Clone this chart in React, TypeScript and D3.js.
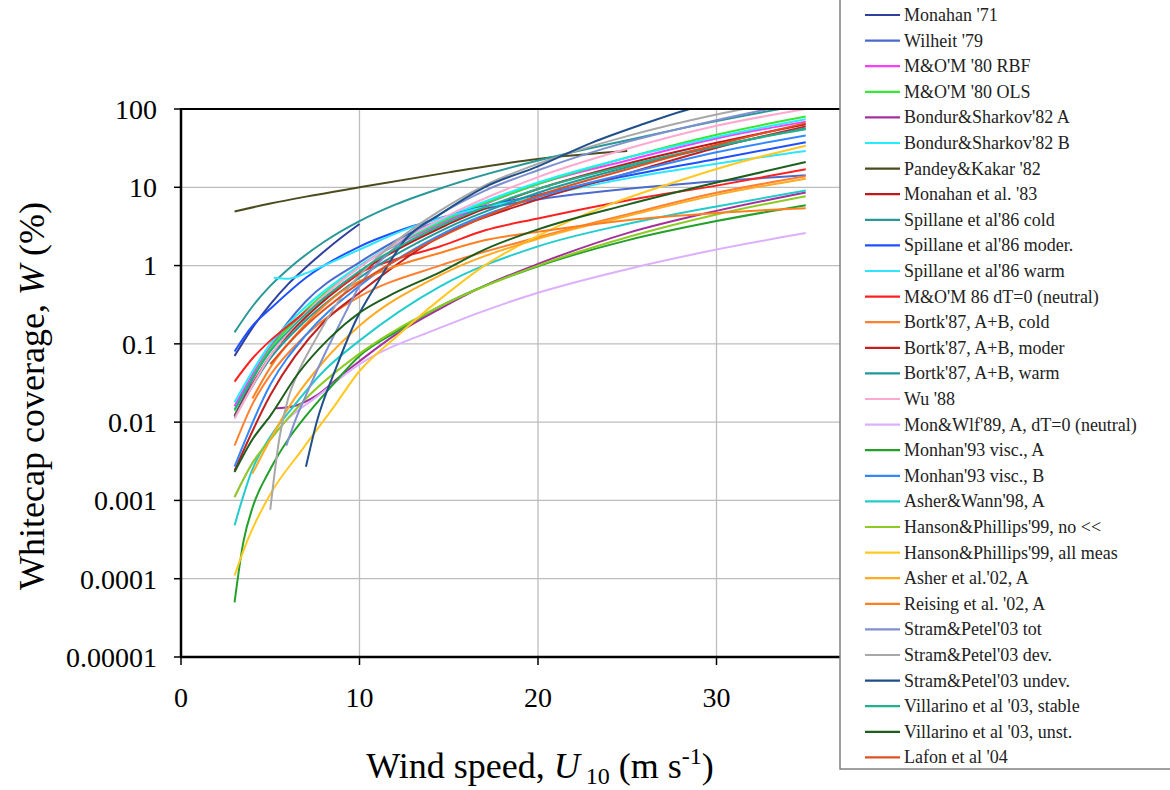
import React from 'react';
import * as d3 from 'd3';

// legend labels and line colours, in legend order
const SERIES_NAMES = [
  "Monahan '71",
  "Wilheit '79",
  "M&O'M '80 RBF",
  "M&O'M '80 OLS",
  "Bondur&Sharkov'82 A",
  "Bondur&Sharkov'82 B",
  "Pandey&Kakar '82",
  "Monahan et al. '83",
  "Spillane et al'86 cold",
  "Spillane et al'86 moder.",
  "Spillane et al'86 warm",
  "M&O'M 86 dT=0 (neutral)",
  "Bortk'87, A+B, cold",
  "Bortk'87, A+B, moder",
  "Bortk'87, A+B, warm",
  "Wu '88",
  "Mon&Wlf'89, A, dT=0 (neutral)",
  "Monhan'93 visc., A",
  "Monhan'93 visc., B",
  "Asher&Wann'98, A",
  "Hanson&Phillips'99, no <<",
  "Hanson&Phillips'99, all meas",
  "Asher et al.'02, A",
  "Reising et al. '02, A",
  "Stram&Petel'03 tot",
  "Stram&Petel'03 dev.",
  "Stram&Petel'03 undev.",
  "Villarino et al '03, stable",
  "Villarino et al '03, unst.",
  "Lafon et al '04",
];

const SERIES_COLORS = [
  '#2e3f9c', '#4a6acd', '#ff3cff', '#33e833', '#a3309c', '#22eeff',
  '#4b4b1e', '#c01818', '#2a9898', '#1f50ff', '#2ee6ff', '#ff2020',
  '#ff8030', '#c02020', '#1f9a9a', '#ffa8d0', '#dcb0ff', '#22a02a',
  '#3388ff', '#22cccc', '#8ccc22', '#ffc822', '#ffaa20', '#ff7f20',
  '#7f8fcf', '#a8a8a8', '#1f4f8a', '#22b08c', '#1d5e1d', '#e05020',
];

// [wind speed U10 (m/s), whitecap coverage W (%)]
const monahan71 = [[3, 0.07], [4, 0.16], [5, 0.32], [6, 0.58], [7, 0.95], [8, 1.5], [9, 2.3], [10, 3.4]];
const wilheit79 = [[3, 0.012], [5, 0.09], [7, 0.35], [10, 1.1], [14, 3.4], [17, 5.3], [20, 7], [27.6, 10.8], [35, 14.2]];
const momRbf80 = [[3, 0.016], [5, 0.09], [7, 0.26], [10, 0.96], [15, 3.8], [20, 11], [25, 22], [30, 42], [35, 69]];
const momOls80 = [[3, 0.014], [5, 0.086], [7, 0.27], [10, 0.97], [15, 4.0], [20, 11], [25, 24], [30, 47], [35, 80]];
const bondurA = [[5.3, 0.015], [6.3, 0.016], [7.6, 0.022], [9, 0.04], [10, 0.06], [12, 0.13], [14.5, 0.28], [17, 0.55], [20, 1.05], [25, 2.6], [30, 5.0], [35, 8.6]];
const bondurB = [[3, 0.018], [5, 0.1], [7, 0.3], [10, 1.0], [15, 4.2], [20, 11.5], [25, 24], [30, 44], [35, 74]];
const pandey82 = [[3, 4.9], [5, 6.2], [7, 7.6], [10, 10], [15, 15.5], [20, 23], [25, 29]];
const monahan83 = [[3, 0.012], [5, 0.07], [7, 0.22], [10, 0.8], [15, 3.4], [20, 9.5], [25, 20], [30, 37], [35, 64]];
const spillCold = [[3, 0.14], [4, 0.3], [5, 0.55], [6, 0.9], [8, 2.0], [10, 3.7], [12, 6], [15, 10.5], [20, 22], [25, 40], [30, 70], [35, 115]];
const spillModer = [[3, 0.08], [4, 0.17], [5, 0.28], [7, 0.7], [10, 1.75], [13, 3.2], [16, 5], [20, 8], [25, 14], [30, 23], [35, 37.6]];
const spillWarm = [[5.2, 0.7], [6, 0.68], [7, 0.8], [8, 1.0], [10, 1.6], [12.6, 2.9], [16.4, 5.2], [20, 7.6], [25, 13], [30, 20], [35, 29]];
const mom86 = [[3, 0.033], [4, 0.065], [5, 0.11], [6, 0.17], [7, 0.26], [9, 0.55], [10, 0.8], [12, 1.2], [14.5, 1.75], [17, 2.8], [20, 4.0], [25, 6.8], [30, 10.5], [35, 17]];
const bortkCold = [[3, 0.005], [4, 0.017], [5, 0.04], [7, 0.13], [10, 0.4], [14.5, 1.0], [20, 2.3], [25, 4.5], [30, 8.5], [35, 13.8]];
const bortkModer = [[3, 0.0024], [5, 0.022], [8, 0.19], [10, 0.45], [14, 2.0], [20, 7], [25, 15], [30, 32], [35, 60]];
const bortkWarm = [[3, 0.0115], [5, 0.065], [7, 0.2], [10, 0.7], [15, 3.1], [20, 8.5], [25, 18], [30, 33], [35, 57]];
const wu88 = [[3, 0.011], [5, 0.07], [7, 0.25], [10, 0.95], [15, 4.4], [20, 13.5], [25, 31], [30, 61], [35, 100]];
const monWolf89 = [[3, 0.0011], [4, 0.003], [5, 0.006], [6, 0.011], [7.6, 0.021], [10, 0.055], [14.5, 0.16], [20, 0.45], [25, 0.9], [30, 1.6], [35, 2.6]];
const mon93A = [[3, 0.00005], [3.5, 0.0003], [4, 0.0008], [5, 0.0025], [6, 0.006], [7, 0.012], [8.5, 0.03], [10, 0.07], [12, 0.14], [14.5, 0.3], [20, 0.98], [25, 2.1], [30, 3.7], [35, 5.9]];
const mon93B = [[3, 0.0027], [5, 0.03], [7, 0.13], [10, 0.55], [15, 2.8], [20, 7.5], [25, 15], [30, 28], [35, 46]];
const asherWann98 = [[3, 0.00048], [4, 0.0025], [5, 0.0065], [6, 0.013], [8, 0.045], [10, 0.11], [14.5, 0.54], [20, 1.76], [25, 3.4], [30, 5.7], [35, 9.1]];
const hpNo99 = [[3, 0.0011], [4, 0.003], [5, 0.006], [7, 0.02], [10, 0.075], [14.5, 0.3], [20, 1.0], [25, 2.3], [30, 4.5], [35, 7.7]];
const hpAll99 = [[3, 0.00011], [3.7, 0.0003], [5, 0.0012], [6.8, 0.0045], [8.5, 0.015], [10, 0.045], [12, 0.12], [14.5, 0.37], [17, 1.0], [20, 2.4], [24, 6], [27.6, 11.5], [31, 20], [35, 34]];
const asher02 = [[4, 0.0022], [5, 0.006], [6, 0.015], [8, 0.06], [10, 0.17], [14.5, 0.75], [20, 2.2], [25, 4.3], [30, 8], [35, 12.9]];
const reising02 = [[4, 0.02], [5, 0.05], [7, 0.18], [8.9, 0.45], [11, 0.8], [14.5, 1.45], [17, 2.1], [20, 2.7], [25, 3.8], [30, 4.7], [35, 5.4]];
const stramTot = [[5.9, 0.005], [6.5, 0.012], [7, 0.022], [8, 0.07], [9, 0.2], [10, 0.55], [12, 1.7], [14.5, 4.5], [17, 9], [20, 16.5], [25, 38], [30, 72], [35, 125]];
const stramDev = [[5, 0.00076], [5.5, 0.006], [6, 0.02], [6.5, 0.04], [7.5, 0.11], [9, 0.4], [10, 0.75], [12, 2.0], [14.5, 5], [17, 10.5], [20, 20], [25, 45], [30, 85], [35, 140]];
const stramUndev = [[7, 0.0027], [7.6, 0.01], [8.7, 0.05], [9.8, 0.2], [11, 0.6], [12.6, 2.2], [14.5, 4.5], [17, 10], [20, 18.5], [23, 37], [25.7, 62], [28.5, 100], [32, 150]];
const villStable = [[3, 0.0145], [5, 0.08], [7, 0.24], [10, 0.85], [15, 3.6], [20, 9.5], [25, 19], [30, 34], [35, 55]];
const villUnst = [[3, 0.0023], [4, 0.006], [5, 0.012], [6.5, 0.04], [8.35, 0.12], [10, 0.25], [12, 0.45], [14.5, 0.82], [17, 1.6], [20, 2.9], [25, 6], [30, 11.5], [35, 21]];
const lafon04 = [[5, 0.055], [6, 0.1], [7, 0.17], [8, 0.27], [10, 0.6], [12, 1.15], [15, 2.6], [20, 7.8], [25, 17], [30, 35], [35, 66]];

const SERIES_DATA = [
  monahan71, wilheit79, momRbf80, momOls80, bondurA, bondurB, pandey82, monahan83,
  spillCold, spillModer, spillWarm, mom86, bortkCold, bortkModer, bortkWarm, wu88,
  monWolf89, mon93A, mon93B, asherWann98, hpNo99, hpAll99, asher02, reising02,
  stramTot, stramDev, stramUndev, villStable, villUnst, lafon04,
];

const X_TICKS = [0, 10, 20, 30];
const X_GRID = [10, 20, 30];
const Y_TICKS = [100, 10, 1, 0.1, 0.01, 0.001, 0.0001, 0.00001];
const Y_TICK_LABELS = ['100', '10', '1', '0.1', '0.01', '0.001', '0.0001', '0.00001'];

// set on every text element, inheritance from the svg did not take
const serif = { fontFamily: "'Liberation Serif'" };

export default function App() {
  const width = 1170;
  const height = 790;
  const left = 181, right = 895, top = 109, bottom = 657;

  const x = d3.scaleLinear().domain([0, 40]).range([left, right]);
  const y = d3.scaleLog().domain([0.00001, 100]).range([bottom, top]);

  const line = d3.line<number[]>()
    .x(d => x(d[0]))
    .y(d => y(d[1]))
    .curve(d3.curveMonotoneX);

  // legend
  const legX = 840, legY0 = 15, legStep = 25.6;

  return (
    <svg width={width} height={height} style={{ position: 'absolute', left: 0, top: 0, background: '#fff' }}>
      <defs>
        <clipPath id="plotClip">
          <rect x={left} y={top} width={right - left} height={bottom - top} />
        </clipPath>
      </defs>
      <rect x={0} y={0} width={width} height={height} fill="#fff" />

      {/* grid */}
      {Y_TICKS.map(t => (
        <line key={'gy' + t} x1={left} x2={right} y1={y(t)} y2={y(t)} stroke="#bdbdbd" strokeWidth={1.3} />
      ))}
      {X_GRID.map(t => (
        <line key={'gx' + t} x1={x(t)} x2={x(t)} y1={top} y2={bottom} stroke="#bdbdbd" strokeWidth={1.3} />
      ))}

      {/* curves */}
      <g clipPath="url(#plotClip)">
        {SERIES_DATA.map((d, i) => (
          <path key={i} d={line(d) || ''} fill="none" stroke={SERIES_COLORS[i]} strokeWidth={2} />
        ))}
      </g>

      {/* frame and axes */}
      <line x1={left} x2={right} y1={top} y2={top} stroke="#000" strokeWidth={2} />
      <line x1={right} x2={right} y1={top} y2={bottom} stroke="#000" strokeWidth={2} />
      <line x1={left} x2={left} y1={top - 1} y2={bottom + 1} stroke="#000" strokeWidth={2.5} />
      <line x1={left - 1} x2={right} y1={bottom} y2={bottom} stroke="#000" strokeWidth={2.5} />

      {Y_TICKS.map((t, i) => (
        <g key={'ty' + t}>
          <line x1={left - 7} x2={left} y1={y(t)} y2={y(t)} stroke="#000" strokeWidth={1.5} />
          <text x={157} y={y(t)} dy="0.35em" textAnchor="end" fontSize={28} style={serif}>{Y_TICK_LABELS[i]}</text>
        </g>
      ))}
      {X_TICKS.map(t => (
        <g key={'tx' + t}>
          <line x1={x(t)} x2={x(t)} y1={bottom} y2={bottom + 8} stroke="#000" strokeWidth={1.5} />
          <text x={x(t)} y={707} textAnchor="middle" fontSize={28} style={serif}>{t}</text>
        </g>
      ))}

      {/* axis titles */}
      <text x={540} y={778} textAnchor="middle" fontSize={36} style={serif}>
        Wind speed, <tspan fontStyle="italic">U</tspan>
        <tspan fontSize={24} dy={6}> 10</tspan>
        <tspan dy={-6}> (m s</tspan>
        <tspan fontSize={24} dy={-14}>-1</tspan>
        <tspan dy={14}>)</tspan>
      </text>
      <text transform="translate(44,396) rotate(-90)" textAnchor="middle" fontSize={36} style={serif}>
        Whitecap coverage,  <tspan fontStyle="italic">W</tspan> (%)
      </text>

      {/* legend */}
      <rect x={legX} y={-2} width={width - legX + 5} height={771} fill="#fff" stroke="#808080" strokeWidth={1.5} />
      {SERIES_NAMES.map((name, i) => {
        const ly = legY0 + i * legStep;
        return (
          <g key={'lg' + i}>
            <line x1={865} x2={900} y1={ly} y2={ly} stroke={SERIES_COLORS[i]} strokeWidth={2.2} />
            <text x={904} y={ly + 6} fontSize={18} fill="#222" style={serif}>{name}</text>
          </g>
        );
      })}
    </svg>
  );
}
